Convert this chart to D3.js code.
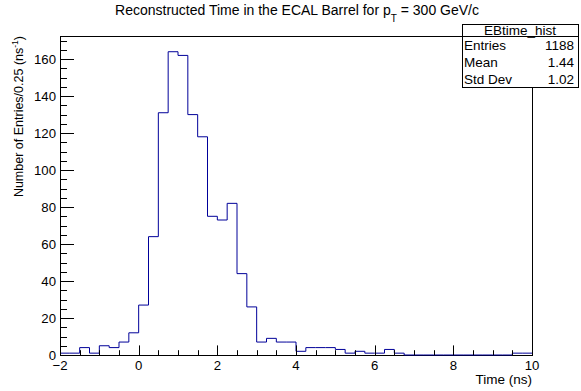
<!DOCTYPE html>
<html>
<head>
<meta charset="utf-8">
<script src="https://cdn.jsdelivr.net/npm/d3@7"></script>
<style>
  html, body { margin: 0; padding: 0; background: #fff; }
  svg { display: block; font-family: "Liberation Sans", Arial, Helvetica, sans-serif; }
</style>
</head>
<body>
<svg id="chart" width="581" height="391"></svg>
<script>
// ---- data ----
const binLow = -2;
const binWidth = 0.25;
const counts = [1, 1, 4, 1, 5, 4, 7, 12, 27, 64, 131, 164, 162, 130, 118, 75,
                73, 82, 44, 26, 7, 9, 7, 7, 2, 4, 4, 4, 3, 1, 2, 1,
                1, 3, 1, 0, 0, 0, 0, 0, 0, 0, 0, 0, 0, 0, 1, 1];
const xTicks = [-2, 0, 2, 4, 6, 8, 10];
const yTicks = [0, 20, 40, 60, 80, 100, 120, 140, 160];
const statsNames = ["Entries", "Mean", "Std Dev"];
const statsValues = ["1188", "1.44", "1.02"];
const histName = "EBtime_hist";

// ---- layout ----
const svg = d3.select("#chart");
const L = 60, R = 532, T = 36, B = 355;
const x = d3.scaleLinear().domain([-2, 10]).range([L, R]);
const y = d3.scaleLinear().domain([0, 172.5]).range([B, T]);
const lineColor = "#000099";

// frame
svg.append("rect").attr("x", L).attr("y", T).attr("width", R - L).attr("height", B - T)
  .attr("fill", "none").attr("stroke", "#000").attr("stroke-width", 1)
  .attr("shape-rendering", "crispEdges");

// histogram path
const pts = [];
counts.forEach((c, i) => {
  const x0 = binLow + i * binWidth, x1 = x0 + binWidth;
  pts.push([x(x0), y(c)]);
  pts.push([x(x1), y(c)]);
});
svg.append("path")
  .attr("d", d3.line()(pts))
  .attr("fill", "none").attr("stroke", lineColor).attr("stroke-width", 1);

// x axis ticks (inside)
const xMinor = d3.range(-2, 10.001, 0.5);
const gx = svg.append("g");
gx.selectAll("line.minor").data(xMinor).enter().append("line")
  .attr("x1", d => Math.round(x(d)) + 0.5).attr("x2", d => Math.round(x(d)) + 0.5)
  .attr("y1", B).attr("y2", d => B - ((Math.abs(d % 2) < 1e-9) ? 9.6 : 4.8))
  .attr("stroke", "#000").attr("stroke-width", 1);
gx.selectAll("text").data(xTicks).enter().append("text")
  .attr("x", d => x(d)).attr("y", 370)
  .attr("text-anchor", "middle").attr("font-size", 13.2)
  .text(d => d < 0 ? "\u2212" + Math.abs(d) : d);

// y axis ticks (inside)
const yMinor = d3.range(0, 172.5, 5);
const gy = svg.append("g");
gy.selectAll("line").data(yMinor).enter().append("line")
  .attr("y1", d => Math.round(y(d)) + 0.5).attr("y2", d => Math.round(y(d)) + 0.5)
  .attr("x1", L).attr("x2", d => L + ((d % 20 === 0) ? 14 : 7))
  .attr("stroke", "#000").attr("stroke-width", 1);
gy.selectAll("text").data(yTicks).enter().append("text")
  .attr("x", 56).attr("y", d => y(d) + 4.6)
  .attr("text-anchor", "end").attr("font-size", 13.2)
  .text(d => d);

// axis titles
svg.append("text").attr("x", R).attr("y", 384).attr("text-anchor", "end")
  .attr("font-size", 13.5).text("Time (ns)");

const yt = svg.append("text").attr("transform", `translate(23,${T}) rotate(-90)`)
  .attr("text-anchor", "end").attr("font-size", 12.5);
yt.append("tspan").text("Number of Entries/0.25 (ns");
yt.append("tspan").attr("font-size", 8.5).attr("dy", -5).text("-1");
yt.append("tspan").attr("dy", 5).text(")");

// title
const tt = svg.append("text").attr("x", 297).attr("y", 15).attr("text-anchor", "middle")
  .attr("font-size", 14);
tt.append("tspan").text("Reconstructed Time in the ECAL Barrel for p");
tt.append("tspan").attr("font-size", 10).attr("dy", 7).text("T");
tt.append("tspan").attr("dy", -7).text(" = 300 GeV/c");

// stats box
const sx0 = 462, sx1 = 578, sy0 = 24, sy1 = 87, sySep = 36;
const sg = svg.append("g");
sg.append("rect").attr("x", sx0 + 0.5).attr("y", sy0 + 0.5).attr("width", sx1 - sx0).attr("height", sy1 - sy0)
  .attr("fill", "#fff").attr("stroke", "#000").attr("stroke-width", 1);
sg.append("line").attr("x1", sx0).attr("x2", sx1).attr("y1", sySep + 0.5).attr("y2", sySep + 0.5)
  .attr("stroke", "#000");
sg.append("text").attr("x", (sx0 + sx1) / 2).attr("y", 34.5).attr("text-anchor", "middle")
  .attr("font-size", 13.5).text(histName);
statsNames.forEach((n, i) => {
  const by = 50 + i * 16.8;
  sg.append("text").attr("x", 464).attr("y", by).attr("font-size", 13.5).text(n);
  sg.append("text").attr("x", 574).attr("y", by).attr("text-anchor", "end").attr("font-size", 13.5).text(statsValues[i]);
});
</script>
</body>
</html>
